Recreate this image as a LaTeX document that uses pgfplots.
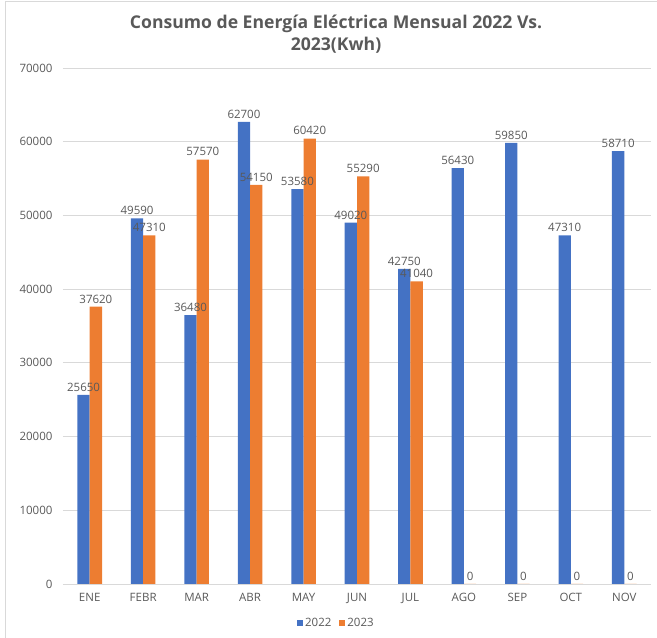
\documentclass[border=0pt]{standalone}
\usepackage{fontspec}
\setmainfont{Open Sans}
\usepackage{pgfplots}
\pgfplotsset{compat=1.18}
\definecolor{c22}{HTML}{4472C4}
\definecolor{c23}{HTML}{ED7D31}
\definecolor{txt}{HTML}{595959}
\definecolor{grd}{HTML}{D9D9D9}
\begin{document}
\begin{tikzpicture}
\path[use as bounding box] (0pt,0pt) rectangle (657pt,638pt);
\draw[grd, line width=0.8pt] (5.5pt,0pt) -- (5.5pt,636.5pt) -- (657pt,636.5pt);
\node[font=\fontsize{17.6}{22}\selectfont\bfseries, text=txt, align=center] at (336pt,604pt) {Consumo de Energía Eléctrica Mensual 2022 Vs.\\2023(Kwh)};
\begin{axis}[
    at={(63pt,54pt)}, anchor=south west,
    scale only axis, width=588pt, height=516pt,
    ybar=0pt, bar width=0.23,
    xmin=-0.5, xmax=10.5, ymin=0, ymax=70000,
    xtick={0,...,10},
    xticklabels={ENE,FEBR,MAR,ABR,MAY,JUN,JUL,AGO,SEP,OCT,NOV},
    ytick={0,10000,...,70000},
    scaled y ticks=false,
    axis line style={draw=none},
    major tick length=0pt,
    ymajorgrids, grid style={grd, line width=0.8pt},
    tick label style={font=\fontsize{11.5}{13}\selectfont, text=txt},
    yticklabel style={xshift=-7pt},
    xticklabel style={yshift=-6pt},
    nodes near coords,
    nodes near coords style={font=\fontsize{11.5}{13}\selectfont, text=txt},
    /pgf/number format/.cd, fixed, precision=0, 1000 sep={}, assume math mode=true,
    /pgfplots/.cd,
    clip=false,
    legend style={at={(0.465,-0.0756)}, anchor=center, legend columns=-1, draw=none,
        font=\fontsize{11.5}{13}\selectfont, text=txt,
        /tikz/every even column/.append style={column sep=6pt}},
    legend image code/.code={\fill[#1] (0pt,-3pt) rectangle (6pt,3pt);},
]
\addplot[fill=c22, draw=none] coordinates {(0,25650) (1,49590) (2,36480) (3,62700) (4,53580) (5,49020) (6,42750) (7,56430) (8,59850) (9,47310) (10,58710)};
\addplot[fill=c23, draw=none] coordinates {(0,37620) (1,47310) (2,57570) (3,54150) (4,60420) (5,55290) (6,41040) (7,0) (8,0) (9,0) (10,0)};
\legend{2022, 2023}
\end{axis}
\end{tikzpicture}
\end{document}
